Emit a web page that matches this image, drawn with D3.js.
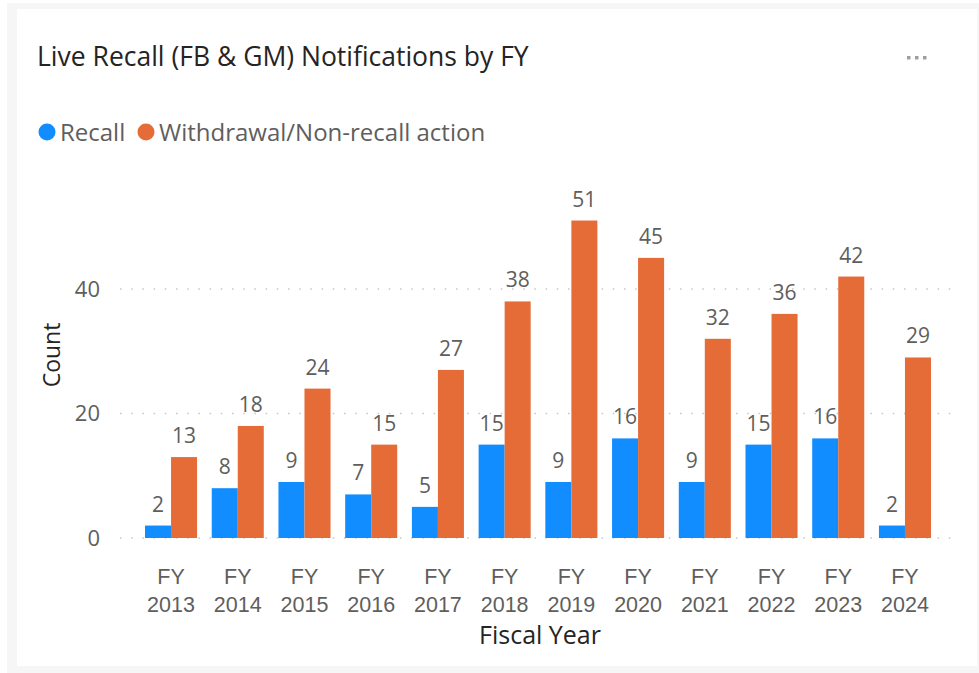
<!DOCTYPE html>
<html>
<head>
<meta charset="utf-8">
<script src="https://cdn.jsdelivr.net/npm/d3@7"></script>
<style>
  body { margin: 0; background: #fff; }
  svg { display: block; font-family: "Open Sans", "Noto Sans", sans-serif; }
</style>
</head>
<body>
<svg id="chart" width="979" height="673"></svg>
<script>
// --- Data ---
const years = ["2013", "2014", "2015", "2016", "2017", "2018", "2019", "2020", "2021", "2022", "2023", "2024"];
const recall = [2, 8, 9, 7, 5, 15, 9, 16, 9, 15, 16, 2];
const withdrawal = [13, 18, 24, 15, 27, 38, 51, 45, 32, 36, 42, 29];
const seriesNames = ["Recall", "Withdrawal/Non-recall action"];
const yTicks = [0, 20, 40];

const colors = ["#118DFF", "#E66C37"];

const svg = d3.select("#chart");

// card frame
svg.append("rect").attr("x", 7).attr("y", 3).attr("width", 972).attr("height", 670).attr("fill", "#f6f6f6");
svg.append("rect").attr("x", 17).attr("y", 9).attr("width", 960).attr("height", 657).attr("fill", "#fff");

// title
svg.append("text")
    .attr("x", 37).attr("y", 66)
    .attr("font-size", 26.5)
    .attr("fill", "#252423")
    .text("Live Recall (FB & GM) Notifications by FY");

// "..." menu
svg.append("g").selectAll("rect")
    .data([0, 1, 2])
    .join("rect")
    .attr("x", d => 907 + d * 8).attr("y", 56)
    .attr("width", 3.5).attr("height", 3.5)
    .attr("fill", "#a19f9d");

// --- Legend ---
const legend = svg.append("g").attr("transform", "translate(0,132)");
const legendX = [47, 146];
seriesNames.forEach((name, i) => {
    legend.append("circle").attr("cx", legendX[i]).attr("cy", 0).attr("r", 8.5).attr("fill", colors[i]);
    legend.append("text")
        .attr("x", legendX[i] + 13).attr("y", 8.5)
        .attr("font-size", 24)
        .attr("fill", "#605e5c")
        .text(name);
});

// --- Scales ---
const x = d3.scaleBand()
    .domain(years)
    .range([118, 958])
    .paddingInner(0.22)
    .paddingOuter(0.405);

const xSub = d3.scaleBand()
    .domain([0, 1])
    .range([0, x.bandwidth()]);

const y = d3.scaleLinear()
    .domain([0, 40])
    .range([538, 289]);

// gridlines
svg.append("g").selectAll("line")
    .data(yTicks)
    .join("line")
    .attr("x1", 120).attr("x2", 958)
    .attr("y1", d => y(d)).attr("y2", d => y(d))
    .attr("stroke", "#c8c6c4")
    .attr("stroke-width", 1.5)
    .attr("stroke-dasharray", "1.5,9.7");

// y axis
const yAxis = svg.append("g")
    .attr("transform", "translate(100,0)")
    .call(d3.axisLeft(y).tickValues(yTicks).tickSize(0).tickPadding(0));
yAxis.select(".domain").remove();
yAxis.selectAll("text")
    .attr("font-size", 22)
    .attr("font-family", "Open Sans, Noto Sans, sans-serif")
    .attr("fill", "#605e5c");

svg.append("text")
    .attr("transform", "translate(60,355) rotate(-90)")
    .attr("text-anchor", "middle")
    .attr("font-size", 23)
    .attr("fill", "#252423")
    .text("Count");

// --- Bars ---
const data = years.map((yr, i) => ({ yr, values: [recall[i], withdrawal[i]] }));

const groups = svg.append("g").selectAll("g")
    .data(data)
    .join("g")
    .attr("transform", d => `translate(${x(d.yr)},0)`);

groups.selectAll("rect")
    .data(d => d.values.map((v, k) => ({ v, k })))
    .join("rect")
    .attr("x", d => xSub(d.k))
    .attr("y", d => y(d.v))
    .attr("width", xSub.bandwidth())
    .attr("height", d => y(0) - y(d.v))
    .attr("fill", d => colors[d.k]);

groups.selectAll("text.lbl")
    .data(d => d.values.map((v, k) => ({ v, k })))
    .join("text")
    .attr("class", "lbl")
    .attr("x", d => xSub(d.k) + xSub.bandwidth() / 2)
    .attr("y", d => y(d.v) - 14)
    .attr("text-anchor", "middle")
    .attr("font-size", 21)
    .attr("fill", "#605e5c")
    .text(d => d.v);

// --- X axis ---
const xAxis = svg.append("g")
    .attr("transform", "translate(0,560)")
    .call(d3.axisBottom(x).tickSize(0).tickPadding(0).tickFormat(""));
xAxis.select(".domain").remove();
xAxis.selectAll(".tick").each(function (d) {
    const t = d3.select(this).append("text")
        .attr("text-anchor", "middle")
        .attr("font-size", 21.5)
        .attr("fill", "#605e5c");
    t.append("tspan").attr("x", 0).attr("y", 24).text("FY");
    t.append("tspan").attr("x", 0).attr("y", 52).text(d);
});

svg.append("text")
    .attr("x", 540).attr("y", 644)
    .attr("text-anchor", "middle")
    .attr("font-size", 25)
    .attr("fill", "#252423")
    .text("Fiscal Year");
</script>
</body>
</html>
